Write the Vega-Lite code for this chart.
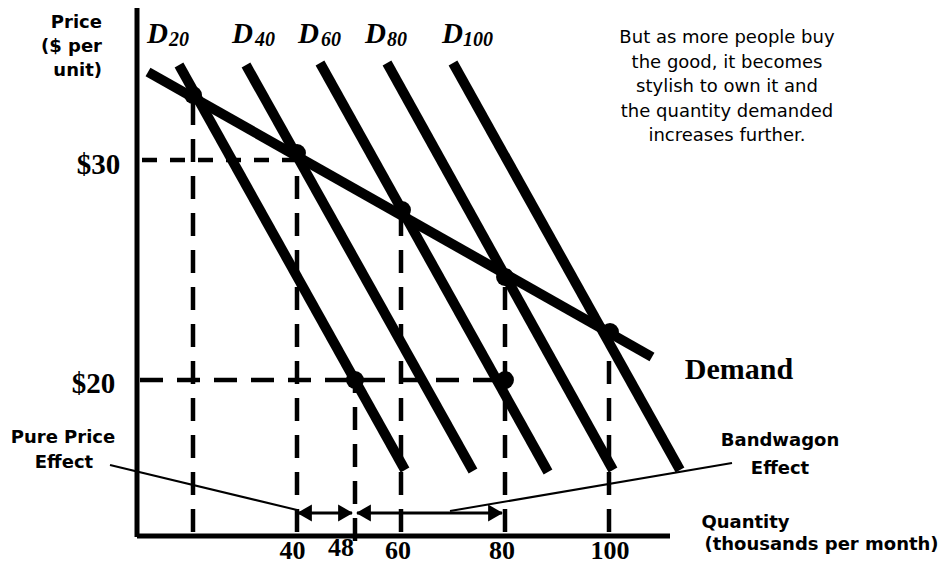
{
  "$schema": "https://vega.github.io/schema/vega-lite/v6.json",
  "width": 944,
  "height": 566,
  "autosize": {"type": "none"},
  "padding": 0,
  "background": "white",
  "config": {"view": {"stroke": null}},
  "datasets": {
    "axes": [
      {"q": 9.231, "p": 36.909, "q2": 9.231, "p2": 12.864},
      {"q": 9.231, "p": 12.909, "q2": 111.731, "p2": 12.909}
    ],
    "guide30": [
      {"q": 10.192, "p": 30, "q2": 40, "p2": 30}
    ],
    "guides": [
      {"q": 9.808, "p": 20, "q2": 80, "p2": 20},
      {"q": 20, "p": 13.091, "q2": 20, "p2": 32.955},
      {"q": 40, "p": 13.091, "q2": 40, "p2": 30.318},
      {"q": 51.154, "p": 12.682, "q2": 51.154, "p2": 20},
      {"q": 60, "p": 13.091, "q2": 60, "p2": 27.727},
      {"q": 80, "p": 13.091, "q2": 80, "p2": 24.682},
      {"q": 100, "p": 13.091, "q2": 100, "p2": 22.182}
    ],
    "shifts": [
      {"curve": "D20", "q": 17.308, "p": 34.318, "q2": 60.769, "p2": 15.909},
      {"curve": "D40", "q": 30.192, "p": 34.318, "q2": 73.846, "p2": 15.864},
      {"curve": "D60", "q": 44.423, "p": 34.409, "q2": 88.269, "p2": 15.818},
      {"curve": "D80", "q": 57.308, "p": 34.409, "q2": 100.769, "p2": 15.909},
      {"curve": "D100", "q": 70.0, "p": 34.409, "q2": 113.654, "p2": 15.909}
    ],
    "demand": [
      {"curve": "Demand", "q": 11.346, "p": 34.0, "q2": 108.269, "p2": 21.045}
    ],
    "points": [
      {"q": 20, "p": 32.955},
      {"q": 40, "p": 30.318},
      {"q": 60.192, "p": 27.727},
      {"q": 80, "p": 24.682},
      {"q": 100.192, "p": 22.182},
      {"q": 51.154, "p": 20},
      {"q": 80, "p": 20}
    ],
    "arrows": [
      {"q": 40.192, "p": 13.955, "q2": 50.577, "p2": 13.955},
      {"q": 51.538, "p": 13.955, "q2": 79.423, "p2": 13.955}
    ],
    "headsLeft": [
      {"q": 41.442, "p": 13.955},
      {"q": 52.788, "p": 13.955}
    ],
    "headsRight": [
      {"q": 49.327, "p": 13.955},
      {"q": 78.173, "p": 13.955}
    ],
    "leaders": [
      {"q": 4.038, "p": 16.136, "q2": 40, "p2": 14.091},
      {"q": 123.654, "p": 16.227, "q2": 69.423, "p2": 14.045}
    ],
    "priceTitle": [
      {"label": "Price", "q": 2.5, "p": 36.0},
      {"label": "($ per", "q": 2.5, "p": 34.909},
      {"label": "unit)", "q": 2.5, "p": 33.818}
    ],
    "sansBold": [
      {"label": "Pure Price", "q": -5.0, "p": 17.136},
      {"label": "Effect", "q": -4.808, "p": 16.0},
      {"label": "Bandwagon", "q": 132.885, "p": 17.0},
      {"label": "Effect", "q": 132.885, "p": 15.727},
      {"label": "Quantity", "q": 126.25, "p": 13.273},
      {"label": "(thousands per month)", "q": 140.865, "p": 12.273}
    ],
    "note": [
      {"label": "But as more people buy", "q": 122.692, "p": 35.318},
      {"label": "the good, it becomes", "q": 122.692, "p": 34.182},
      {"label": "stylish to own it and", "q": 122.692, "p": 33.091},
      {"label": "the quantity demanded", "q": 122.692, "p": 31.955},
      {"label": "increases further.", "q": 122.692, "p": 30.864}
    ],
    "priceTicks": [
      {"label": "$30", "q": 1.827, "p": 29.364},
      {"label": "$20", "q": 0.865, "p": 19.409}
    ],
    "demandLabel": [
      {"label": "Demand", "q": 125.0, "p": 20.045}
    ],
    "qtyTicks": [
      {"label": "40", "q": 39.135, "p": 11.864},
      {"label": "48", "q": 48.462, "p": 12.0},
      {"label": "60", "q": 59.423, "p": 11.864},
      {"label": "80", "q": 79.423, "p": 11.864},
      {"label": "100", "q": 100.192, "p": 11.864}
    ],
    "dNames": [
      {"label": "D", "q": 11.154, "p": 35.318},
      {"label": "D", "q": 27.5, "p": 35.318},
      {"label": "D", "q": 40.192, "p": 35.318},
      {"label": "D", "q": 53.077, "p": 35.318},
      {"label": "D", "q": 67.885, "p": 35.318}
    ],
    "dSubs": [
      {"label": "20", "q": 15.385, "p": 35.182},
      {"label": "40", "q": 31.923, "p": 35.182},
      {"label": "60", "q": 44.615, "p": 35.182},
      {"label": "80", "q": 57.308, "p": 35.182},
      {"label": "100", "q": 71.923, "p": 35.182}
    ]
  },
  "encoding": {
    "x": {"field": "q", "type": "quantitative", "scale": {"domain": [-17.115, 164.423], "nice": false, "zero": false}, "axis": null},
    "y": {"field": "p", "type": "quantitative", "scale": {"domain": [11.545, 37.273], "nice": false, "zero": false}, "axis": null}
  },
  "layer": [
    {
      "data": {"name": "guide30"},
      "mark": {"type": "rule", "color": "black", "strokeWidth": 4.5, "strokeDash": [15, 13]},
      "encoding": {"x2": {"field": "q2"}, "y2": {"field": "p2"}}
    },
    {
      "data": {"name": "guides"},
      "mark": {"type": "rule", "color": "black", "strokeWidth": 4.5, "strokeDash": [23, 14]},
      "encoding": {"x2": {"field": "q2"}, "y2": {"field": "p2"}}
    },
    {
      "data": {"name": "shifts"},
      "mark": {"type": "rule", "color": "black", "strokeWidth": 10},
      "encoding": {"x2": {"field": "q2"}, "y2": {"field": "p2"}}
    },
    {
      "data": {"name": "demand"},
      "mark": {"type": "rule", "color": "black", "strokeWidth": 10},
      "encoding": {"x2": {"field": "q2"}, "y2": {"field": "p2"}}
    },
    {
      "data": {"name": "points"},
      "mark": {"type": "point", "shape": "circle", "filled": true, "color": "black", "opacity": 1, "size": 320}
    },
    {
      "data": {"name": "axes"},
      "mark": {"type": "rule", "color": "black", "strokeWidth": 5},
      "encoding": {"x2": {"field": "q2"}, "y2": {"field": "p2"}}
    },
    {
      "data": {"name": "arrows"},
      "mark": {"type": "rule", "color": "black", "strokeWidth": 3},
      "encoding": {"x2": {"field": "q2"}, "y2": {"field": "p2"}}
    },
    {
      "data": {"name": "headsLeft"},
      "mark": {"type": "point", "shape": "triangle-left", "filled": true, "color": "black", "opacity": 1, "size": 290}
    },
    {
      "data": {"name": "headsRight"},
      "mark": {"type": "point", "shape": "triangle-right", "filled": true, "color": "black", "opacity": 1, "size": 290}
    },
    {
      "data": {"name": "leaders"},
      "mark": {"type": "rule", "color": "black", "strokeWidth": 2},
      "encoding": {"x2": {"field": "q2"}, "y2": {"field": "p2"}}
    },
    {
      "data": {"name": "priceTitle"},
      "mark": {"type": "text", "font": "DejaVu Sans", "fontWeight": "bold", "fontSize": 18, "align": "right", "baseline": "alphabetic", "color": "black"},
      "encoding": {"text": {"field": "label"}}
    },
    {
      "data": {"name": "sansBold"},
      "mark": {"type": "text", "font": "DejaVu Sans", "fontWeight": "bold", "fontSize": 18, "align": "center", "baseline": "alphabetic", "color": "black"},
      "encoding": {"text": {"field": "label"}}
    },
    {
      "data": {"name": "note"},
      "mark": {"type": "text", "font": "DejaVu Sans", "fontSize": 18, "align": "center", "baseline": "alphabetic", "color": "black"},
      "encoding": {"text": {"field": "label"}}
    },
    {
      "data": {"name": "priceTicks"},
      "mark": {"type": "text", "font": "Liberation Serif", "fontWeight": "bold", "fontSize": 29, "align": "center", "baseline": "alphabetic", "color": "black"},
      "encoding": {"text": {"field": "label"}}
    },
    {
      "data": {"name": "demandLabel"},
      "mark": {"type": "text", "font": "Liberation Serif", "fontWeight": "bold", "fontSize": 30, "align": "center", "baseline": "alphabetic", "color": "black"},
      "encoding": {"text": {"field": "label"}}
    },
    {
      "data": {"name": "qtyTicks"},
      "mark": {"type": "text", "font": "Liberation Serif", "fontWeight": "bold", "fontSize": 26, "align": "center", "baseline": "alphabetic", "color": "black"},
      "encoding": {"text": {"field": "label"}}
    },
    {
      "data": {"name": "dNames"},
      "mark": {"type": "text", "font": "Liberation Serif", "fontWeight": "bold", "fontStyle": "italic", "fontSize": 29, "align": "left", "baseline": "alphabetic", "color": "black"},
      "encoding": {"text": {"field": "label"}}
    },
    {
      "data": {"name": "dSubs"},
      "mark": {"type": "text", "font": "Liberation Serif", "fontWeight": "bold", "fontStyle": "italic", "fontSize": 20, "align": "left", "baseline": "alphabetic", "color": "black"},
      "encoding": {"text": {"field": "label"}}
    }
  ]
}
